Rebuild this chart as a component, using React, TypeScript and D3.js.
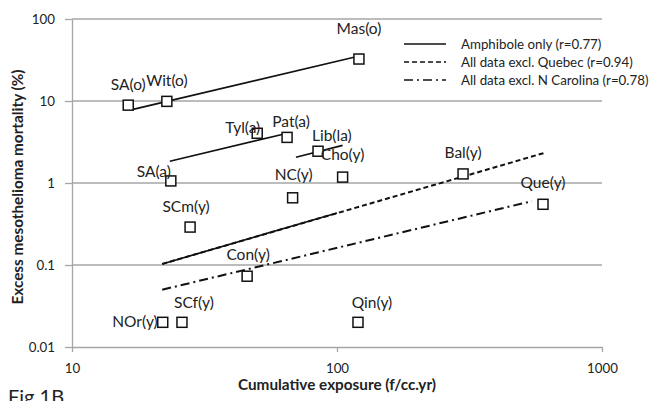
import React, { useEffect, useRef } from "react";
import * as d3 from "d3";

const WIDTH = 653;
const HEIGHT = 401;
const MARGIN = { TOP: 19, BOTTOM: 54, LEFT: 72, RIGHT: 51 };
const FONT = "Lato, 'Open Sans', sans-serif";

// study points
const studies = ["SA(o)", "Wit(o)", "Mas(o)", "Tyl(a)", "Pat(a)", "SA(a)", "Lib(la)", "Cho(y)", "NC(y)", "SCm(y)", "Con(y)", "NOr(y)", "SCf(y)", "Qin(y)", "Bal(y)", "Que(y)"];
const exposure = [16.3, 22.8, 121, 50, 64.8, 23.6, 84.8, 105, 68, 27.9, 45.8, 22, 26, 120, 299, 599];
const mortality = [8.9, 9.9, 32.5, 4.04, 3.6, 1.06, 2.44, 1.18, 0.66, 0.29, 0.073, 0.02, 0.02, 0.02, 1.29, 0.55];

// where each label sits relative to its marker: [dx, dy, anchor]
const labelPlace: [number, number, string][] = [
  [0, -15, "middle"], [0, -15, "middle"], [0, -25, "middle"], [3, 0, "end"],
  [4, -10, "middle"], [0, -4, "end"], [-6, -10, "start"], [0, -17, "middle"],
  [1, -18, "middle"], [-4, -15, "middle"], [1, -16, "middle"], [-5, 5, "end"],
  [12, -14, "middle"], [14, -14, "middle"], [0, -16, "middle"], [0, -16, "middle"],
];

// fitted lines (end points)
const amphiboleX = [[17, 117], [23.4, 62.6], [70, 105], [21.9, 100]];
const amphiboleY = [[7.9, 34.4], [1.84, 3.93], [2.06, 2.88], [0.103, 0.43]];
const exclQuebecX = [21.9, 604];
const exclQuebecY = [0.103, 2.32];
const exclNCX = [21.9, 544];
const exclNCY = [0.05, 0.6];

const xTicks = [10, 100, 1000];
const yTicks = [0.01, 0.1, 1, 10, 100];
const legendLabels = ["Amphibole only (r=0.77)", "All data excl. Quebec (r=0.94)", "All data excl. N Carolina (r=0.78)"];
const legendDash = [null, "5,3", "9,4,2,4"];

export default function App() {
  const ref = useRef<SVGSVGElement>(null);

  useEffect(() => {
    const svg = d3.select(ref.current);
    svg.selectAll("*").remove();

    const innerW = WIDTH - MARGIN.LEFT - MARGIN.RIGHT;
    const innerH = HEIGHT - MARGIN.TOP - MARGIN.BOTTOM;

    const x = d3.scaleLog().domain([10, 1000]).range([0, innerW]);
    const y = d3.scaleLog().domain([0.01, 100]).range([innerH, 0]);

    const g = svg.append("g").attr("transform", `translate(${MARGIN.LEFT},${MARGIN.TOP})`);

    // gridlines
    g.selectAll(".grid")
      .data(yTicks.slice(1))
      .enter()
      .append("line")
      .attr("x1", 0)
      .attr("x2", innerW)
      .attr("y1", (d) => y(d))
      .attr("y2", (d) => y(d))
      .attr("stroke", "#a6a6a6")
      .attr("stroke-width", 1.3);

    // y axis
    const yAxis = g.append("g").call(
      d3.axisLeft(y).tickValues(yTicks).tickFormat((d) => String(d)).tickSize(7).tickSizeOuter(0)
    );
    yAxis.select(".domain").attr("stroke", "#a6a6a6").attr("stroke-width", 1.3);
    yAxis.selectAll(".tick line").attr("stroke", "#a6a6a6").attr("stroke-width", 1.3);
    yAxis.selectAll("text").attr("font-family", FONT).attr("font-size", 13.3).attr("fill", "#222").attr("x", -17);

    // x axis
    const xAxis = g
      .append("g")
      .attr("transform", `translate(0,${innerH})`)
      .call(d3.axisBottom(x).tickValues(xTicks).tickFormat((d) => String(d)).tickSize(5).tickSizeOuter(0));
    xAxis.select(".domain").attr("stroke", "#a6a6a6").attr("stroke-width", 1.3);
    xAxis.selectAll(".tick line").attr("stroke", "#a6a6a6").attr("stroke-width", 1.3);
    xAxis.selectAll("text").attr("font-family", FONT).attr("font-size", 13.3).attr("fill", "#222").attr("y", 17);

    // axis titles
    svg
      .append("text")
      .attr("x", MARGIN.LEFT + innerW / 2)
      .attr("y", 390)
      .attr("text-anchor", "middle")
      .attr("font-family", FONT)
      .attr("font-weight", "bold")
      .attr("font-size", 15.3)
      .attr("fill", "#222")
      .text("Cumulative exposure (f/cc.yr)");

    svg
      .append("text")
      .attr("transform", `translate(23,187) rotate(-90)`)
      .attr("text-anchor", "middle")
      .attr("font-family", FONT)
      .attr("font-weight", "bold")
      .attr("font-size", 15.3)
      .attr("fill", "#222")
      .text("Excess mesothelioma mortality (%)");

    svg
      .append("text")
      .attr("x", 8)
      .attr("y", 404)
      .attr("font-family", FONT)
      .attr("font-size", 20)
      .attr("fill", "#222")
      .text("Fig 1B");

    // fitted lines
    const line = d3
      .line<[number, number]>()
      .x((d) => x(d[0]))
      .y((d) => y(d[1]));

    g.append("path")
      .attr("d", line(d3.zip(exclQuebecX, exclQuebecY) as [number, number][]))
      .attr("fill", "none")
      .attr("stroke", "#111")
      .attr("stroke-width", 2)
      .attr("stroke-dasharray", legendDash[1]);

    g.append("path")
      .attr("d", line(d3.zip(exclNCX, exclNCY) as [number, number][]))
      .attr("fill", "none")
      .attr("stroke", "#111")
      .attr("stroke-width", 2)
      .attr("stroke-dasharray", legendDash[2]);

    amphiboleX.forEach((xs, i) => {
      g.append("path")
        .attr("d", line(d3.zip(xs, amphiboleY[i]) as [number, number][]))
        .attr("fill", "none")
        .attr("stroke", "#111")
        .attr("stroke-width", 1.7);
    });

    // markers
    const pts = studies.map((s, i) => ({ name: s, x: exposure[i], y: mortality[i], place: labelPlace[i] }));
    g.selectAll(".pt")
      .data(pts)
      .enter()
      .append("rect")
      .attr("x", (d) => x(d.x) - 5)
      .attr("y", (d) => y(d.y) - 5)
      .attr("width", 10)
      .attr("height", 10)
      .attr("fill", "white")
      .attr("stroke", "#111")
      .attr("stroke-width", 1.5);

    g.selectAll(".lbl")
      .data(pts)
      .enter()
      .append("text")
      .attr("x", (d) => x(d.x) + d.place[0])
      .attr("y", (d) => y(d.y) + d.place[1])
      .attr("text-anchor", (d) => d.place[2])
      .attr("font-family", FONT)
      .attr("font-size", 15.5)
      .attr("fill", "#222")
      .text((d) => d.name);

    // legend
    const legend = svg.append("g").attr("transform", "translate(404,44)");
    legendLabels.forEach((lab, i) => {
      legend
        .append("line")
        .attr("x1", 0)
        .attr("x2", 42)
        .attr("y1", i * 18)
        .attr("y2", i * 18)
        .attr("stroke", "#111")
        .attr("stroke-width", i === 0 ? 1.7 : 1.5)
        .attr("stroke-dasharray", legendDash[i]);
      legend
        .append("text")
        .attr("x", 57)
        .attr("y", i * 18 + 5)
        .attr("font-family", FONT)
        .attr("font-size", 13.3)
        .attr("fill", "#222")
        .text(lab);
    });
  }, []);

  return (
    <svg
      ref={ref}
      width={WIDTH}
      height={HEIGHT}
      style={{ position: "absolute", left: 0, top: 0, background: "white" }}
    />
  );
}
